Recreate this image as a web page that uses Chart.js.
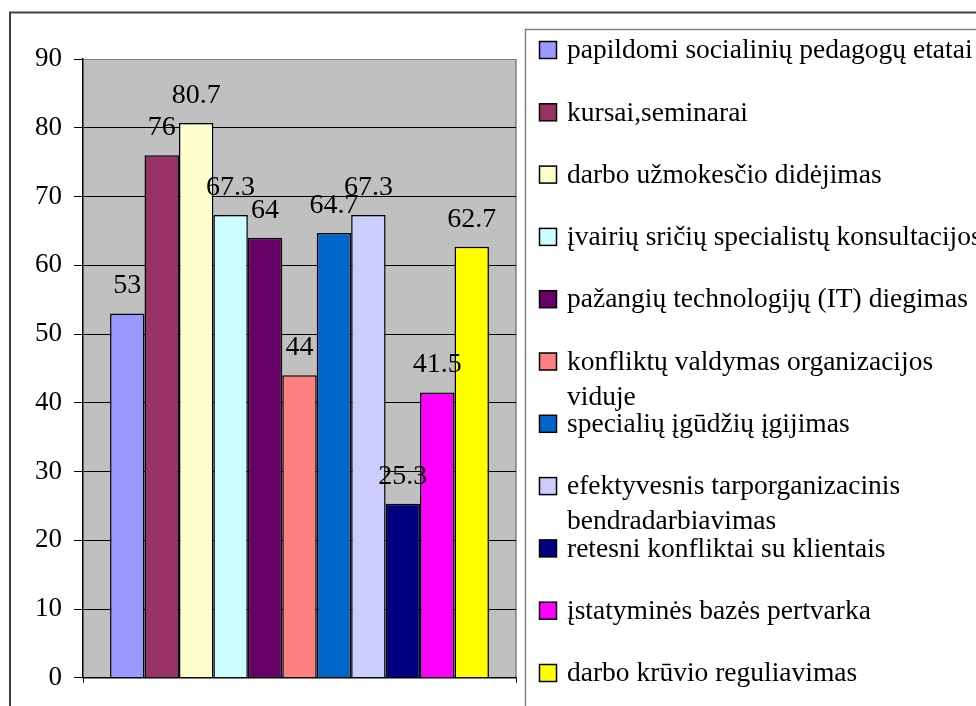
<!DOCTYPE html>
<html><head><meta charset="utf-8">
<style>html,body{margin:0;padding:0;background:#fff;overflow:hidden;} #wrap{width:976px;height:706px;}</style>
<script src="https://cdn.jsdelivr.net/npm/chart.js@4/dist/chart.umd.min.js"></script>
</head><body><div id="wrap"><canvas id="c" width="976" height="706"></canvas></div>
<script>
const categories = [''];
const seriesNames = [
  'papildomi socialinių pedagogų etatai',
  'kursai,seminarai',
  'darbo užmokesčio didėjimas',
  'įvairių sričių specialistų konsultacijos',
  'pažangių technologijų (IT) diegimas',
  'konfliktų valdymas organizacijos\nviduje',
  'specialių įgūdžių įgijimas',
  'efektyvesnis tarporganizacinis\nbendradarbiavimas',
  'retesni konfliktai su klientais',
  'įstatyminės bazės pertvarka',
  'darbo krūvio reguliavimas'
];
const seriesValues = [53, 76, 80.7, 67.3, 64, 44, 64.7, 67.3, 25.3, 41.5, 62.7];
const seriesColors = ['#9999FF','#993366','#FFFFCC','#CCFFFF','#660066','#FF8080','#0066CC','#CCCCFF','#000080','#FF00FF','#FFFF00'];
const yMin = 0, yMax = 90, yStep = 10;

const FONT = '"Liberation Serif", "Times New Roman", serif';

const bgPlugin = {
  id: 'bg',
  beforeDraw(chart) {
    const ctx = chart.ctx, a = chart.chartArea;
    ctx.save();
    ctx.fillStyle = '#fff';
    ctx.fillRect(0, 0, chart.width, chart.height);
    ctx.strokeStyle = '#404040';
    ctx.lineWidth = 2;
    ctx.strokeRect(10, 12.5, 2000, 2000);
    ctx.strokeStyle = '#808080';
    ctx.lineWidth = 1.5;
    ctx.strokeRect(525.5, 29.5, 2000, 2000);
    ctx.fillStyle = '#C0C0C0';
    ctx.fillRect(a.left, a.top, a.right - a.left, a.bottom - a.top);
    ctx.strokeStyle = '#808080';
    ctx.lineWidth = 1.5;
    ctx.beginPath();
    ctx.moveTo(a.right, a.top);
    ctx.lineTo(a.right, a.bottom);
    ctx.stroke();
    ctx.restore();
  }
};

const labelPlugin = {
  id: 'vlabels',
  afterDatasetsDraw(chart) {
    const ctx = chart.ctx;
    ctx.save();
    ctx.font = '28px ' + FONT;
    ctx.fillStyle = '#000';
    ctx.textAlign = 'center';
    ctx.textBaseline = 'alphabetic';
    chart.data.datasets.forEach((ds, i) => {
      const el = chart.getDatasetMeta(i).data[0];
      ctx.fillText(String(seriesValues[i]), el.x, el.y - 20);
    });
    ctx.restore();
  }
};

const legendPlugin = {
  id: 'customLegend',
  afterDraw(chart) {
    const ctx = chart.ctx;
    ctx.save();
    ctx.font = '27.5px ' + FONT;
    ctx.textAlign = 'left';
    ctx.textBaseline = 'middle';
    seriesNames.forEach((name, i) => {
      const cy = 50 + i * 62.3;
      ctx.fillStyle = seriesColors[i];
      ctx.fillRect(539.5, cy - 8.5, 17, 17);
      ctx.strokeStyle = '#000';
      ctx.lineWidth = 1.5;
      ctx.strokeRect(539.5, cy - 8.5, 17, 17);
      ctx.fillStyle = '#000';
      name.split('\n').forEach((line, j) => {
        ctx.fillText(line, 567, cy + 1 + j * 35);
      });
    });
    ctx.restore();
  }
};

new Chart(document.getElementById('c'), {
  type: 'bar',
  data: {
    labels: categories,
    datasets: seriesNames.map((n, i) => ({
      label: n,
      data: [seriesValues[i]],
      backgroundColor: seriesColors[i],
      borderColor: '#000',
      borderWidth: 1.5
    }))
  },
  options: {
    responsive: false,
    animation: false,
    devicePixelRatio: 1,
    layout: { padding: { left: 0, top: 59, right: 460, bottom: 18 } },
    plugins: { legend: { display: false }, tooltip: { enabled: false } },
    datasets: { bar: { categoryPercentage: 0.875, barPercentage: 1 } },
    scales: {
      x: {
        grid: { display: true, offset: true, drawOnChartArea: false, tickLength: 5, color: '#000' },
        border: { color: '#000', width: 1.5 },
        ticks: { display: false },
        afterFit(s) { s.height = 10; }
      },
      y: {
        min: yMin, max: yMax,
        ticks: { stepSize: yStep, color: '#000', font: { family: FONT, size: 27 }, padding: 12 },
        grid: { color: c => (c.tick && c.tick.value === yMax) ? '#808080' : '#000', tickColor: '#000', tickLength: 9 },
        border: { color: '#000', width: 1.5 },
        afterFit(s) { s.width = 83; }
      }
    }
  },
  plugins: [bgPlugin, labelPlugin, legendPlugin]
});
</script>
</body></html>
